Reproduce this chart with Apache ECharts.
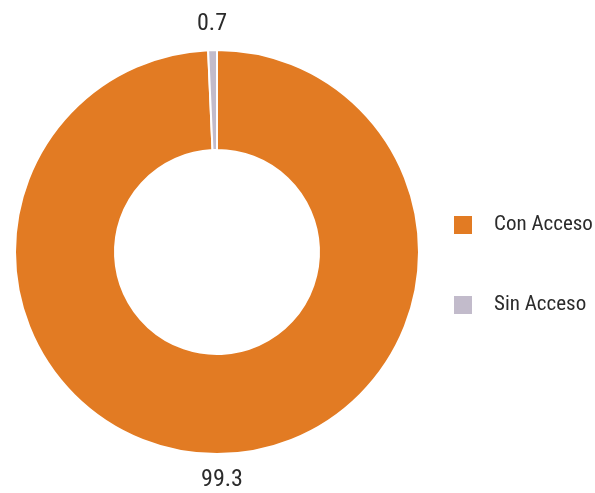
<!DOCTYPE html>
<html>
<head>
<meta charset="utf-8">
<script src="https://cdn.jsdelivr.net/npm/echarts@6/dist/echarts.min.js"></script>
<style>html,body{margin:0;padding:0;background:#fff;}#c{width:595px;height:493px;}</style>
</head>
<body>
<div id="c"></div>
<script>
var categories = ["Con Acceso", "Sin Acceso"];
var values = [99.3, 0.7];
var colors = ["#E27B23", "#C2BBCB"];

var FONT = "'Roboto Condensed', 'Liberation Sans', sans-serif";
var CX = 217, CY = 252, R_OUT = 202, R_IN = 102, LABEL_R = 228;

var total = values.reduce(function (a, b) { return a + b; }, 0);
var midAngles = [];
(function () {
  var acc = 0;
  for (var i = 0; i < values.length; i++) {
    var start = 90 - acc / total * 360;
    var span = values[i] / total * 360;
    midAngles.push((start - span / 2) * Math.PI / 180);
    acc += values[i];
  }
})();

var chart = echarts.init(document.getElementById('c'), null, {renderer: 'canvas'});
chart.setOption({
  animation: false,
  color: colors,
  legend: {
    orient: 'vertical',
    left: 452,
    top: 214,
    padding: 0,
    itemWidth: 20,
    itemHeight: 20,
    itemGap: 58,
    icon: 'rect',
    data: categories,
    textStyle: {fontFamily: FONT, fontSize: 21, color: '#2b2b2b', lineHeight: 20, padding: [0, 0, 0, 16]}
  },
  series: [{
    type: 'pie',
    center: [CX, CY],
    radius: [R_IN, R_OUT],
    startAngle: 90,
    clockwise: true,
    avoidLabelOverlap: false,
    itemStyle: {borderColor: '#fff', borderWidth: 2},
    label: {
      show: true,
      position: 'outside',
      fontFamily: FONT,
      fontSize: 24,
      color: '#2b2b2b',
      formatter: function (p) { return String(p.value); }
    },
    labelLine: {show: false},
    labelLayout: function (p) {
      var a = midAngles[p.dataIndex];
      return {
        x: CX + LABEL_R * Math.cos(a),
        y: CY - LABEL_R * Math.sin(a),
        align: 'center',
        verticalAlign: 'middle'
      };
    },
    emphasis: {disabled: true},
    data: categories.map(function (c, i) { return {name: c, value: values[i]}; })
  }]
});
</script>
</body>
</html>
